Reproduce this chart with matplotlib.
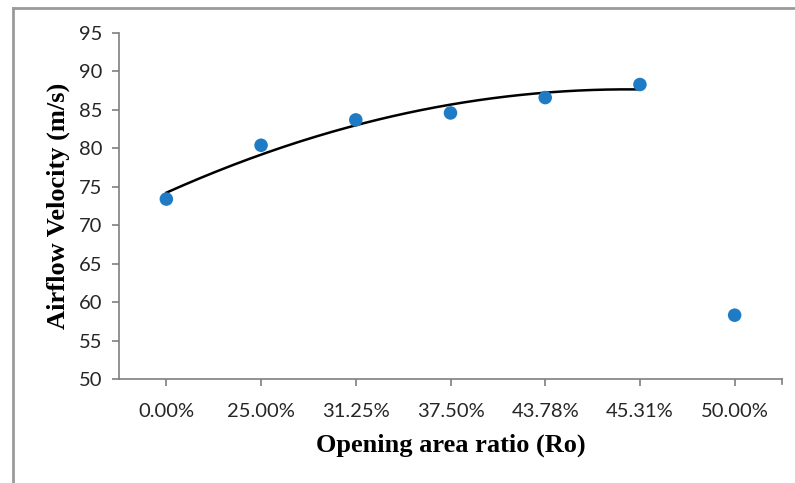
import numpy as np
import matplotlib
matplotlib.use("Agg")
import matplotlib.pyplot as plt
from matplotlib.lines import Line2D

# Opening area ratio categories and measured airflow velocity
ratio_labels = ["0.00%", "25.00%", "31.25%", "37.50%", "43.78%", "45.31%", "50.00%"]
velocity = [73.4, 80.4, 83.7, 84.6, 86.6, 88.3, 58.3]
y_ticks = [50, 55, 60, 65, 70, 75, 80, 85, 90, 95]

# Number of leading points used for the 2nd-order trendline
n_trend = 6

fig = plt.figure(figsize=(7.95, 4.83), dpi=100)
W, H = 795, 483

# Light grey frame on the top and left edges
fig.add_artist(Line2D([13 / W, 1.0], [1 - 8 / H, 1 - 8 / H], color="#9a9a9a", lw=2.0,
                      transform=fig.transFigure))
fig.add_artist(Line2D([13 / W, 13 / W], [0.0, 1 - 8 / H], color="#9a9a9a", lw=2.0,
                      transform=fig.transFigure))

left, right = 119 / W, 782 / W
top, bottom = 1 - 33 / H, 1 - 379 / H
ax = fig.add_axes([left, bottom, right - left, top - bottom])

x = np.arange(len(velocity))
ax.scatter(x, velocity, s=95, color="#1f7cc4", zorder=3, edgecolors="none")

# Polynomial (order 2) trendline over the first points, Excel-style x = 1..n
xt = np.arange(1, n_trend + 1)
coef = np.polyfit(xt, velocity[:n_trend], 2)
xs = np.linspace(1, n_trend, 200)
ax.plot(xs - 1, np.polyval(coef, xs), color="black", lw=1.8, zorder=2)

ax.set_xlim(-0.5, len(velocity) - 0.5)
ax.set_ylim(50, 95)
ax.set_yticks(y_ticks)
ax.set_xticks(x)
ax.set_xticklabels(ratio_labels)

for s in ["top", "right"]:
    ax.spines[s].set_visible(False)
for s in ["left", "bottom"]:
    ax.spines[s].set_color("#7f7f7f")
    ax.spines[s].set_linewidth(1.2)

ax.tick_params(axis="both", colors="#7f7f7f", length=5, width=1.2, direction="out")
ax.tick_params(axis="y", labelcolor="#262626", labelsize=14.5, pad=7)
ax.tick_params(axis="x", labelcolor="#262626", labelsize=14.5, pad=12)
for lbl in ax.get_xticklabels() + ax.get_yticklabels():
    lbl.set_family("Lato")

# Tick at the right end of the category axis
ax.add_line(Line2D([1.0, 1.0], [0.0, -5 / 346], color="#7f7f7f", lw=1.2,
                   transform=ax.transAxes, clip_on=False))

ax.set_xlabel("Opening area ratio (Ro)", family="Liberation Serif", weight="bold",
              fontsize=19, labelpad=10)
ax.set_ylabel("Airflow Velocity (m/s)", family="Liberation Serif", weight="bold",
              fontsize=19, labelpad=6)

fig.savefig("out.png", dpi=100)
